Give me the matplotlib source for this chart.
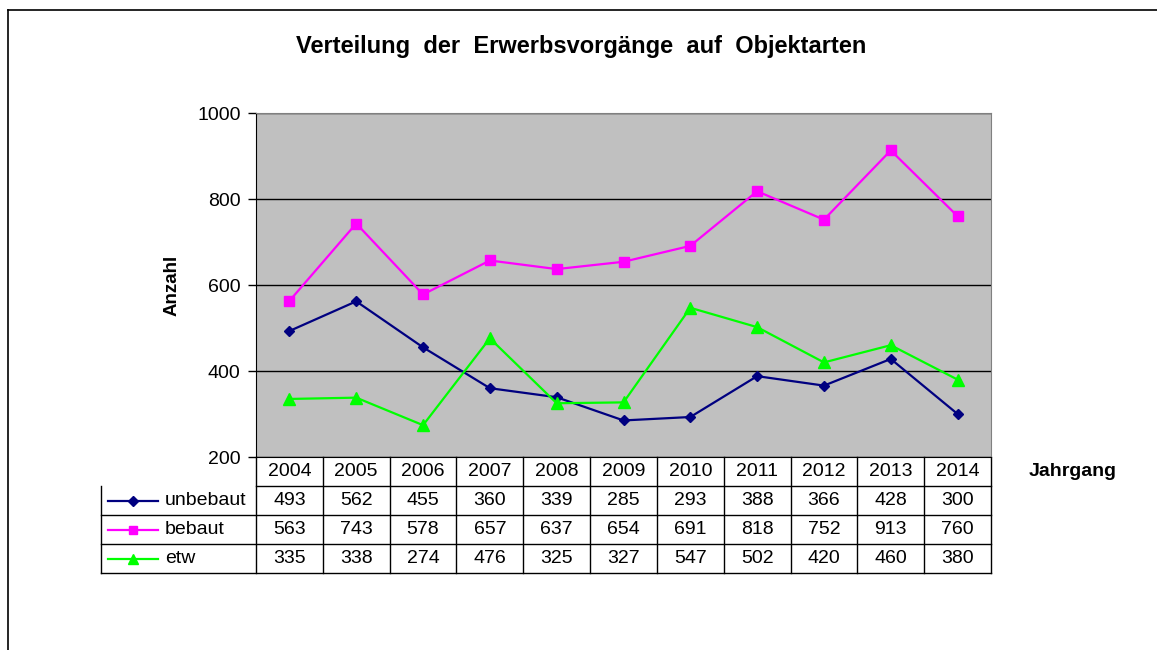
import matplotlib.pyplot as plt
from matplotlib.lines import Line2D
import numpy as np

plt.rcParams['font.family'] = ['Liberation Sans', 'DejaVu Sans']

# Daten
jahre = ['2004', '2005', '2006', '2007', '2008', '2009', '2010', '2011', '2012', '2013', '2014']
unbebaut = [493, 562, 455, 360, 339, 285, 293, 388, 366, 428, 300]
bebaut = [563, 743, 578, 657, 637, 654, 691, 818, 752, 913, 760]
etw = [335, 338, 274, 476, 325, 327, 547, 502, 420, 460, 380]

reihen = [
    ('unbebaut', unbebaut, '#000080', 'D', 5.5),
    ('bebaut', bebaut, '#FF00FF', 's', 7),
    ('etw', etw, '#00FF00', '^', 8.5),
]

W, H = 1157, 650
fig = plt.figure(figsize=(W / 100, H / 100), dpi=100)

# Rahmen
fig.add_artist(Line2D([8 / W, 8 / W], [0, 1 - 10 / H], color='black', lw=1.2))
fig.add_artist(Line2D([8 / W, 1], [1 - 10 / H, 1 - 10 / H], color='black', lw=1.2))

left, right, top, bottom = 256, 991, 113, 457
ax = fig.add_axes([left / W, 1 - bottom / H, (right - left) / W, (bottom - top) / H])
ax.set_facecolor('#C0C0C0')

n = len(jahre)
x = np.arange(n)
for name, werte, farbe, marker, ms in reihen:
    ax.plot(x, werte, color=farbe, lw=1.6, marker=marker, markersize=ms,
            markerfacecolor=farbe, markeredgecolor=farbe, label=name)

ax.set_xlim(-0.5, n - 0.5)
ax.set_ylim(200, 1000)
ax.set_yticks([200, 400, 600, 800, 1000])
ax.yaxis.grid(True, color='black', lw=1)
ax.set_axisbelow(True)
ax.set_xticks([])
ax.tick_params(axis='y', labelsize=14, length=6, width=1, direction='out', pad=5)
for s in ['top', 'right']:
    ax.spines[s].set_color('#808080')
ax.spines['left'].set_color('black')
ax.spines['bottom'].set_color('black')

ax.set_ylabel('Anzahl', fontsize=13.5, fontweight='bold', labelpad=12)
fig.text(581 / W, 1 - 47 / H, 'Verteilung  der  Erwerbsvorgänge  auf  Objektarten',
         ha='center', va='center', fontsize=17, fontweight='bold')
fig.text(1073 / W, 1 - 472 / H, 'Jahrgang', ha='center', va='center',
         fontsize=14, fontweight='bold')

# Datentabelle unter der Achse
r = 29 / (bottom - top)
lw_col = 155 / (right - left)
kw = dict(transform=ax.transAxes, clip_on=False, color='black', lw=1)
cw = 1 / n
# Kopfzeile mit Jahren
for i, j in enumerate(jahre):
    ax.text((i + 0.5) * cw, -0.5 * r, j, transform=ax.transAxes, ha='center',
            va='center', fontsize=14)
# horizontale Linien
ax.add_line(Line2D([0, 1], [-r, -r], **kw))
for k in range(2, 5):
    ax.add_line(Line2D([-lw_col, 1], [-k * r, -k * r], **kw))
# vertikale Linien
for i in range(n + 1):
    ax.add_line(Line2D([i * cw, i * cw], [0, -4 * r], **kw))
ax.add_line(Line2D([-lw_col, -lw_col], [-r, -4 * r], **kw))

for k, (name, werte, farbe, marker, ms) in enumerate(reihen):
    yc = -(k + 1.5) * r
    ax.add_line(Line2D([-lw_col + 0.01, -lw_col + 0.078], [yc, yc], color=farbe,
                       lw=1.6, transform=ax.transAxes, clip_on=False))
    ax.add_line(Line2D([-lw_col + 0.044], [yc], color=farbe, marker=marker,
                       markersize=ms * 0.85, transform=ax.transAxes, clip_on=False))
    ax.text(-lw_col + 0.087, yc, name, transform=ax.transAxes, ha='left',
            va='center', fontsize=14)
    for i, v in enumerate(werte):
        ax.text((i + 0.5) * cw, yc, str(v), transform=ax.transAxes, ha='center',
                va='center', fontsize=14)

fig.savefig('out.png', dpi=100)
